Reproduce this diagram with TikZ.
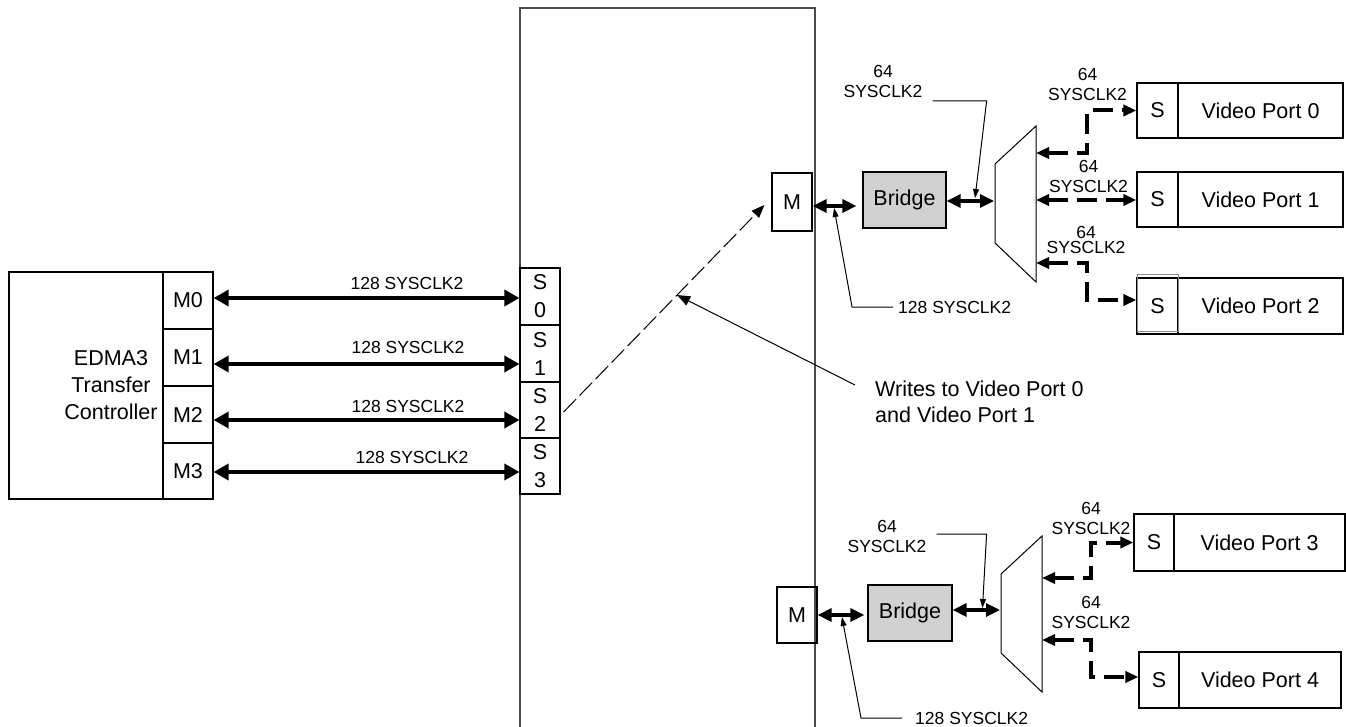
\documentclass[tikz,border=0pt]{standalone}
\usepackage{fontspec}
\setmainfont{Liberation Sans}
\usetikzlibrary{arrows.meta,calc}

\begin{document}
\begin{tikzpicture}[x=1pt,y=-1pt,
  bustip/.tip={Triangle[length=15pt,width=16pt]},
  brtip/.tip={Triangle[length=14pt,width=13pt]},
  dtip/.tip={Triangle[length=13pt,width=11pt]},
  ltip/.tip={Triangle[length=9pt,width=6pt]},
  wtip/.tip={Triangle[length=13pt,width=10pt]},
  big/.style={font=\fontsize{21.5}{27}\selectfont},
  small/.style={font=\fontsize{17.5}{20}\selectfont},
  box/.style={draw, line width=1.2pt, inner sep=0pt, big, align=center},
  slot/.style={box, font=\fontsize{21.5}{28}\selectfont},
  bridgebox/.style={box, fill=black!18},
  lbl/.style={small, inner sep=0pt, align=center},
  bus/.style={line width=3.5pt, bustip-bustip},
  link/.style={line width=3.2pt, brtip-brtip},
  vlink/.style={line width=4pt, dash pattern=on 20pt off 9pt, dtip-dtip},
  lead/.style={line width=1pt, -ltip},
  frame/.style={draw=black!70, line width=1.3pt},
  muxshape/.style={draw, line width=1pt}
]
\useasboundingbox (0,0) rectangle (1346,727);

% central interconnect block, open at the bottom
\draw[frame] (520,727) -- (520,8) -- (815,8) -- (815,727);

% EDMA3 transfer controller with its master ports
\node[box, minimum width=204pt, minimum height=227pt] (edma) at (111,385.5)
  {EDMA3\\Transfer\\Controller};
\node[box, minimum width=50pt, minimum height=57pt] (m0) at (188,300.5) {M0};
\node[box, minimum width=50pt, minimum height=57pt] (m1) at (188,357.5) {M1};
\node[box, minimum width=50pt, minimum height=57pt] (m2) at (188,414.5) {M2};
\node[box, minimum width=50pt, minimum height=56pt] (m3) at (188,471) {M3};

% slave ports of the interconnect
\node[slot, minimum width=40pt, minimum height=57pt] (s0) at (540,296.5) {S\\0};
\node[slot, minimum width=40pt, minimum height=57pt] (s1) at (540,353.5) {S\\1};
\node[slot, minimum width=40pt, minimum height=56pt] (s2) at (540,410) {S\\2};
\node[slot, minimum width=40pt, minimum height=56pt] (s3) at (540,466) {S\\3};

% 128-bit buses from the transfer controller
\draw[bus] ($(m0.east)+(0,-2.5)$) -- ($(m0.east -| s0.west)+(0,-2.5)$);
\draw[bus] ($(m1.east)+(0,6.5)$) -- ($(m1.east -| s1.west)+(0,6.5)$);
\draw[bus] ($(m2.east)+(0,5.5)$) -- ($(m2.east -| s2.west)+(0,5.5)$);
\draw[bus] ($(m3.east)+(0,1)$) -- ($(m3.east -| s3.west)+(0,1)$);
\node[lbl] (l0) at (407,283) {128 SYSCLK2};
\node[lbl] (l1) at (408,347) {128 SYSCLK2};
\node[lbl] (l2) at (408,406) {128 SYSCLK2};
\node[lbl] (l3) at (412,457) {128 SYSCLK2};

% upper path: master port, bridge, demultiplexer
\node[box, minimum width=40pt, minimum height=58pt] (mt) at (792,202) {M};
\node[bridgebox, minimum width=83pt, minimum height=56pt] (bt) at (904.5,200) {Bridge};
\draw[muxshape] (995,164) -- (1036,126) -- (1036,282) -- (995,243) -- cycle;
\coordinate (muxtin) at (995,201);
\coordinate (muxta) at (1036,153);
\coordinate (muxtb) at (1036,200);
\coordinate (muxtc) at (1036,263);
\draw[link] ($(mt.east)+(0,4)$) -- ($(mt.east -| bt.west)+(-6,4)$)
  coordinate[pos=0.49] (tapa);
\draw[link] ($(bt.east)+(0,1)$) -- ($(muxtin)+(-1,0)$)
  coordinate[pos=0.6] (tapb);

% video ports 0-2
\node[box, minimum width=41pt, minimum height=55pt] (vs0) at (1157.5,110.5) {S};
\node[box, minimum width=165pt, minimum height=55pt] (vp0) at (1260.5,110.5) {Video Port 0};
\node[box, minimum width=41pt, minimum height=55pt] (vs1) at (1157.5,199.5) {S};
\node[box, minimum width=165pt, minimum height=55pt] (vp1) at (1260.5,199.5) {Video Port 1};
\node[box, minimum width=165pt, minimum height=56pt] (vp2) at (1260.5,306) {Video Port 2};
\node[box, minimum width=41pt, minimum height=56pt] (vs2) at (1157.5,306) {S};
\draw[black!45, line width=1pt] (1137,275) rectangle (1178,331);

\draw[vlink] (muxta) -- (1087,153) |- (vs0.west);
\draw[vlink] (muxtb) -- (vs1.west |- muxtb);
\draw[vlink] (muxtc) -- (1087,263) |- ($(vs2.west)+(0,-6)$);
\node[lbl] (v0l) at (1087.5,84) {64\\SYSCLK2};
\node[lbl] (v1l) at (1088.5,176.5) {64\\SYSCLK2};
\node[lbl, font=\fontsize{17.5}{15}\selectfont] (v2l) at (1086,239.5) {64\\SYSCLK2};

% leaders of the upper path
\node[lbl] (t64a) at (883,81) {64\\SYSCLK2};
\draw[lead] ($(t64a.east)+(10,20)$) -- ++(54,0) -- ($(tapb)+(0,-3)$);
\node[lbl, anchor=west] (t128a) at (898,307) {128 SYSCLK2};
\draw[lead] ($(t128a.west)+(-5,0)$) -- ++(-41,0) -- ($(tapa)+(0,2)$);

% write traffic from slave port 2 to the upper master port
\draw[line width=1pt, dash pattern=on 18pt off 5pt, -wtip]
  ($(s2.east)+(3,2)$) -- ($(mt.west)+(-7,3)$) coordinate[pos=0.565] (wp);
\node[big, anchor=west, align=left, inner sep=0pt,
  font=\fontsize{21.5}{26}\selectfont] (writes) at (875,402)
  {Writes to Video Port 0\\and Video Port 1};
\draw[lead, -wtip] ($(writes.west)+(-20,-17)$) -- (wp);

% lower path: master port, bridge, demultiplexer
\node[box, minimum width=40pt, minimum height=56pt] (mb) at (797,615) {M};
\node[bridgebox, minimum width=84pt, minimum height=56pt] (bb) at (910,613) {Bridge};
\draw[muxshape] (1001,574) -- (1042,536) -- (1042,692) -- (1001,653) -- cycle;
\coordinate (muxbin) at (1001,610);
\coordinate (muxba) at (1042,578);
\coordinate (muxbb) at (1042,640);
\draw[link] (mb.east) -- ($(mb.east -| bb.west)+(-3,0)$)
  coordinate[pos=0.52] (tapc);
\draw[link] ($(bb.east)+(0,-3)$) -- ($(muxbin)+(-1,0)$)
  coordinate[pos=0.63] (tapd);

% video ports 3-4
\node[box, minimum width=40pt, minimum height=57pt] (vs3) at (1154,542.5) {S};
\node[box, minimum width=171pt, minimum height=57pt] (vp3) at (1259.5,542.5) {Video Port 3};
\node[box, minimum width=40pt, minimum height=56pt] (vs4) at (1159,680) {S};
\node[box, minimum width=162pt, minimum height=56pt] (vp4) at (1260,680) {Video Port 4};

\draw[vlink] (muxba) -- (1091,578) |- (vs3.west);
\draw[vlink] (muxbb) -- (1091,640) |- ($(vs4.west)+(0,-3)$);
\node[lbl] (v3l) at (1091,518.5) {64\\SYSCLK2};
\node[lbl] (v4l) at (1091,612.5) {64\\SYSCLK2};

% leaders of the lower path
\node[lbl] (t64c) at (887,536) {64\\SYSCLK2};
\draw[lead] ($(t64c.east)+(10,-2)$) -- ++(50,0) -- ($(tapd)+(0,-2)$);
\node[lbl, anchor=west] (t128b) at (915,718) {128 SYSCLK2};
\draw[lead] ($(t128b.west)+(-13,0)$) -- ++(-41,0) -- ($(tapc)+(0,2)$);
\end{tikzpicture}
\end{document}
